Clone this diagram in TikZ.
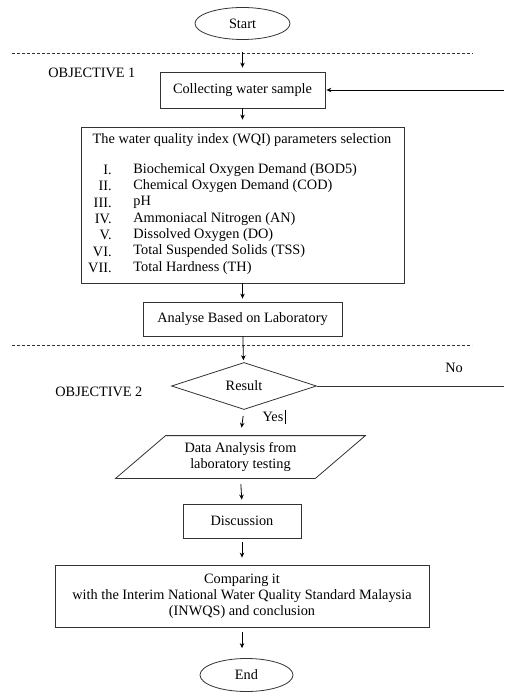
\documentclass[tikz,border=0pt]{standalone}
\usepackage{fontspec}
\setmainfont{Liberation Serif}
\usetikzlibrary{shapes.geometric,arrows.meta}
\begin{document}
\begin{tikzpicture}[x=1pt,y=-1pt,
  font=\fontsize{14.3}{16}\selectfont,
  line width=0.8pt,
  box/.style={draw=black!80, rectangle, inner sep=0pt},
  term/.style={draw=black!80, ellipse, inner sep=0pt},
  dec/.style={draw=black!80, diamond, inner sep=0pt},
  arr/.style={-{Stealth[length=5pt,width=4.5pt]}, black, shorten <=5pt, shorten >=5pt},
  sep/.style={black!80, dash pattern=on 3pt off 2pt, line width=0.7pt},
  lbl/.style={inner sep=0pt}
]
\useasboundingbox (0,0) rectangle (504,692);

% terminals and boxes
\node[term, minimum width=95, minimum height=32] (start) at (242.5,23.5) {Start};
\coordinate (d1l) at (12,53);
\coordinate (d1r) at (473,53);
\draw[sep] (d1l) -- (d1r);
\node[lbl, anchor=west] (obj1) at (48,73) {OBJECTIVE 1};

\node[box, minimum width=165, minimum height=36] (collect) at (242.5,90) {Collecting water sample};

\node[box, minimum width=323, minimum height=156] (wqi) at (242.5,205) {};
\node[lbl] (title) at (242,140) {The water quality index (WQI) parameters selection};
\foreach \n/\r/\t in {0/I./Biochemical Oxygen Demand (BOD5),
                     1/II./Chemical Oxygen Demand (COD),
                     2/III./pH,
                     3/IV./Ammoniacal Nitrogen (AN),
                     4/V./Dissolved Oxygen (DO),
                     5/VI./Total Suspended Solids (TSS),
                     6/VII./Total Hardness (TH)}{
  \node[lbl, anchor=east] (num\n) at (112,170+16.3*\n) {\r};
  \node[lbl, anchor=west] (item\n) at (133,170+16.3*\n) {\t};
}

\node[box, minimum width=199, minimum height=34] (analyse) at (242.5,319) {Analyse Based on Laboratory};

\coordinate (d2l) at (12,345);
\coordinate (d2r) at (472,345);
\draw[sep] (d2l) -- (d2r);
\node[lbl, anchor=west] (obj2) at (55,392) {OBJECTIVE 2};

\node[dec, minimum width=145, minimum height=47, aspect=3] (result) at (244,386) {Result};
\node[lbl] (no) at (454,368) {No};
\coordinate (noend) at (504,386);
\draw[black!80] (result.east) -- (noend);
\coordinate (loopend) at (504,90);
\draw[arr, shorten <=0pt, shorten >=1pt] (loopend) -- (collect.east);

\node[lbl] (yes) at (273,417) {Yes};
\draw[line width=0.6pt] ([xshift=1pt,yshift=-7pt]yes.east) -- ([xshift=1pt,yshift=7pt]yes.east);

\node[lbl, minimum width=199, minimum height=42, align=center] (data) at (240.5,457) {Data Analysis from\\laboratory testing};
\draw[black!80] ([xshift=25pt]data.north west) -- ([xshift=25pt]data.north east)
  -- ([xshift=-25pt]data.south east) -- ([xshift=-25pt]data.south west) -- cycle;

\node[box, minimum width=118, minimum height=34] (disc) at (242,521) {Discussion};

\node[box, minimum width=374, minimum height=62, align=center] (comp) at (242,596)
  {Comparing it\\with the Interim National Water Quality Standard Malaysia\\(INWQS) and conclusion};

\node[term, minimum width=93, minimum height=33] (end) at (246.5,675) {End};

% connectors
\draw[arr, shorten <=12pt, shorten >=4pt] (start) -- (collect);
\draw[arr, shorten <=0pt, shorten >=7pt] (collect) -- (wqi);
\draw[arr, shorten <=0pt, shorten >=3pt] (wqi) -- (analyse);
\draw[arr, shorten <=0pt, shorten >=2pt] (analyse) -- (result);
\draw[arr, shorten <=6pt, shorten >=8pt] (result.south) -- (data.north);
\draw[arr, shorten <=6pt, shorten >=4pt] (data.south) -- (disc.north);
\draw[arr, shorten <=4pt, shorten >=7pt] (disc) -- (comp);
\draw[arr, shorten <=5pt, shorten >=10pt] (comp.south) -- (comp.south |- end.north);
\end{tikzpicture}
\end{document}
